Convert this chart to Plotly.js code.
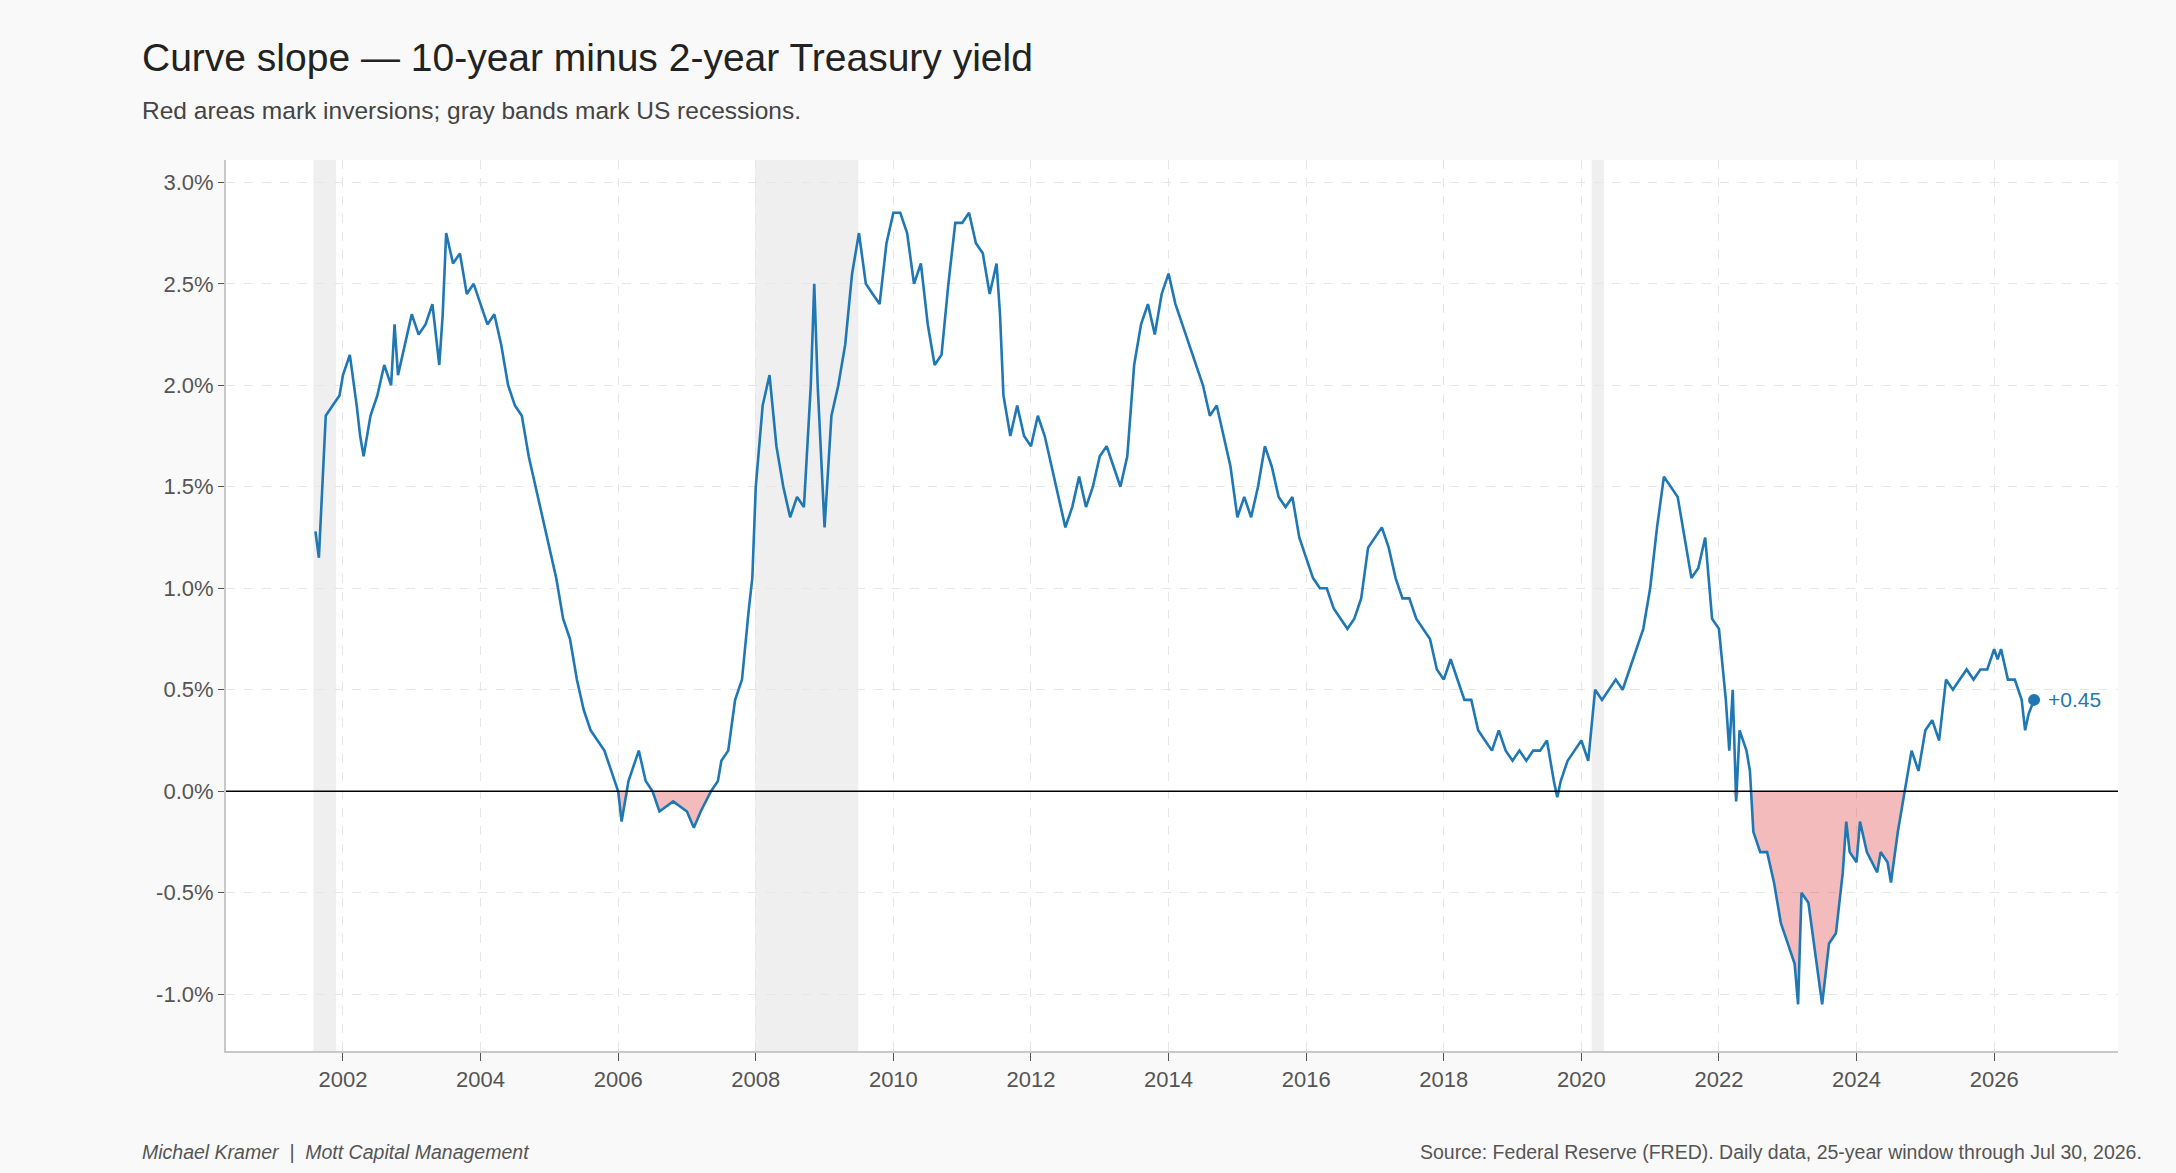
<!DOCTYPE html>
<html>
<head>
<meta charset="utf-8">
<script src="https://cdn.plot.ly/plotly-3.0.1.min.js"></script>
<style>body{margin:0;background:#f9f9f9;} #graph{width:2176px;height:1173px;}</style>
</head>
<body>
<div id="graph"></div>
<script>
// decimal-year dates and 10y-2y spread (%)
var years = [2001.6,2001.65,2001.7,2001.75,2001.85,2001.95,2002.0,2002.1,2002.2,2002.25,2002.3,2002.4,2002.5,2002.6,2002.7,2002.75,2002.8,2002.9,
2003.0,2003.1,2003.2,2003.3,2003.4,2003.45,2003.5,2003.6,2003.7,2003.8,2003.9,2004.0,2004.1,2004.2,2004.3,2004.4,2004.5,2004.6,2004.7,2004.8,2004.9,
2005.0,2005.1,2005.2,2005.3,2005.4,2005.5,2005.6,2005.7,2005.8,2005.9,2006.0,2006.05,2006.15,2006.3,2006.4,2006.5,2006.6,2006.8,
2007.0,2007.1,2007.2,2007.35,2007.45,2007.5,2007.6,2007.7,2007.8,2007.9,2007.95,2008.0,2008.1,2008.2,2008.3,2008.4,2008.5,2008.6,2008.7,2008.8,2008.85,2008.9,
2009.0,2009.1,2009.2,2009.3,2009.4,2009.5,2009.6,2009.7,2009.8,2009.9,2010.0,2010.1,2010.2,2010.3,2010.4,2010.5,2010.6,2010.7,2010.8,2010.9,
2011.0,2011.1,2011.2,2011.3,2011.4,2011.5,2011.55,2011.6,2011.7,2011.8,2011.9,2012.0,2012.1,2012.2,2012.3,2012.4,2012.5,2012.6,2012.7,2012.8,2012.9,
2013.0,2013.1,2013.2,2013.3,2013.4,2013.5,2013.6,2013.7,2013.8,2013.9,2014.0,2014.1,2014.2,2014.3,2014.4,2014.5,2014.6,2014.7,2014.8,2014.9,
2015.0,2015.1,2015.2,2015.3,2015.4,2015.5,2015.6,2015.7,2015.8,2015.9,2016.0,2016.1,2016.2,2016.3,2016.4,2016.5,2016.6,2016.7,2016.8,2016.9,
2017.0,2017.1,2017.2,2017.3,2017.4,2017.5,2017.6,2017.7,2017.8,2017.9,2018.0,2018.1,2018.2,2018.3,2018.4,2018.5,2018.6,2018.7,2018.8,2018.9,
2019.0,2019.1,2019.2,2019.3,2019.4,2019.5,2019.6,2019.65,2019.7,2019.8,2019.9,2020.0,2020.1,2020.2,2020.3,2020.4,2020.5,2020.6,2020.7,2020.8,2020.9,
2021.0,2021.1,2021.2,2021.3,2021.4,2021.5,2021.6,2021.7,2021.8,2021.9,2022.0,2022.1,2022.15,2022.2,2022.25,2022.3,2022.4,2022.45,2022.5,2022.6,2022.7,2022.8,2022.9,
2023.0,2023.1,2023.15,2023.2,2023.3,2023.4,2023.45,2023.5,2023.6,2023.7,2023.8,2023.85,2023.9,2024.0,2024.05,2024.15,2024.3,2024.35,2024.45,2024.5,2024.6,2024.7,2024.8,2024.9,
2025.0,2025.1,2025.2,2025.3,2025.4,2025.5,2025.6,2025.7,2025.8,2025.9,2026.0,2026.05,2026.1,2026.2,2026.3,2026.4,2026.45,2026.5,2026.58];
var spread = [1.28,1.15,1.5,1.85,1.9,1.95,2.05,2.15,1.9,1.75,1.65,1.85,1.95,2.1,2.0,2.3,2.05,2.2,
2.35,2.25,2.3,2.4,2.1,2.35,2.75,2.6,2.65,2.45,2.5,2.4,2.3,2.35,2.2,2.0,1.9,1.85,1.65,1.5,1.35,
1.2,1.05,0.85,0.75,0.55,0.4,0.3,0.25,0.2,0.1,0.0,-0.15,0.05,0.2,0.05,0.0,-0.1,-0.05,
-0.1,-0.18,-0.1,0.0,0.05,0.15,0.2,0.45,0.55,0.9,1.05,1.5,1.9,2.05,1.7,1.5,1.35,1.45,1.4,2.0,2.5,2.0,
1.3,1.85,2.0,2.2,2.55,2.75,2.5,2.45,2.4,2.7,2.85,2.85,2.75,2.5,2.6,2.3,2.1,2.15,2.5,2.8,
2.8,2.85,2.7,2.65,2.45,2.6,2.35,1.95,1.75,1.9,1.75,1.7,1.85,1.75,1.6,1.45,1.3,1.4,1.55,1.4,1.5,
1.65,1.7,1.6,1.5,1.65,2.1,2.3,2.4,2.25,2.45,2.55,2.4,2.3,2.2,2.1,2.0,1.85,1.9,1.75,1.6,
1.35,1.45,1.35,1.5,1.7,1.6,1.45,1.4,1.45,1.25,1.15,1.05,1.0,1.0,0.9,0.85,0.8,0.85,0.95,1.2,
1.25,1.3,1.2,1.05,0.95,0.95,0.85,0.8,0.75,0.6,0.55,0.65,0.55,0.45,0.45,0.3,0.25,0.2,0.3,0.2,
0.15,0.2,0.15,0.2,0.2,0.25,0.05,-0.03,0.05,0.15,0.2,0.25,0.15,0.5,0.45,0.5,0.55,0.5,0.6,0.7,0.8,
1.0,1.3,1.55,1.5,1.45,1.25,1.05,1.1,1.25,0.85,0.8,0.45,0.2,0.5,-0.05,0.3,0.2,0.1,-0.2,-0.3,-0.3,-0.45,-0.65,
-0.75,-0.85,-1.05,-0.5,-0.55,-0.8,-0.9,-1.05,-0.75,-0.7,-0.4,-0.15,-0.3,-0.35,-0.15,-0.3,-0.4,-0.3,-0.35,-0.45,-0.2,0.0,0.2,0.1,
0.3,0.35,0.25,0.55,0.5,0.55,0.6,0.55,0.6,0.6,0.7,0.65,0.7,0.55,0.55,0.45,0.3,0.38,0.45];
var recessions = [[2001.57, 2001.9], [2007.99, 2009.49], [2020.15, 2020.33]];

var inverted = spread.map(function (v) { return Math.min(v, 0); });
var last = spread.length - 1;

var fillTrace = {
  x: years, y: inverted, type: 'scatter', mode: 'lines',
  fill: 'tozeroy', fillcolor: 'rgba(220,60,60,0.35)',
  line: {width: 0}, hoverinfo: 'skip'
};
var lineTrace = {
  x: years, y: spread, type: 'scatter', mode: 'lines',
  line: {color: '#1f77b4', width: 2.6}
};
var endTrace = {
  x: [years[last]], y: [spread[last]], type: 'scatter', mode: 'markers',
  marker: {color: '#1f77b4', size: 12}
};

var shapes = recessions.map(function (r) {
  return {type: 'rect', xref: 'x', yref: 'paper', x0: r[0], x1: r[1], y0: 0, y1: 1,
    fillcolor: '#efefef', line: {width: 0}, layer: 'below'};
});
shapes.push({type: 'line', xref: 'paper', yref: 'y', x0: 0, x1: 1, y0: 0, y1: 0,
  line: {color: '#000', width: 1.5}});

var font = 'Liberation Sans, Arial, sans-serif';
var layout = {
  width: 2176, height: 1173,
  paper_bgcolor: '#f9f9f9', plot_bgcolor: '#ffffff',
  margin: {l: 226, r: 58, t: 160, b: 122},
  showlegend: false,
  font: {family: font, color: '#555', size: 22},
  xaxis: {
    range: [2000.3, 2027.8], tick0: 2002, dtick: 2, tickformat: 'd',
    showgrid: true, gridcolor: '#e6e6e6', griddash: 'dash',
    showline: true, linecolor: '#c8c8c8', linewidth: 2,
    ticks: 'outside', ticklen: 8, tickcolor: '#555', zeroline: false
  },
  yaxis: {
    range: [-1.28, 3.11], tickvals: [-1, -0.5, 0, 0.5, 1, 1.5, 2, 2.5, 3],
    ticktext: ['-1.0%', '-0.5%', '0.0%', '0.5%', '1.0%', '1.5%', '2.0%', '2.5%', '3.0%'],
    showgrid: true, gridcolor: '#e6e6e6', griddash: 'dash',
    showline: true, linecolor: '#c8c8c8', linewidth: 2,
    ticks: 'outside', ticklen: 6, tickcolor: '#555', zeroline: false
  },
  shapes: shapes,
  annotations: [
    {xref: 'paper', yref: 'paper', x: -0.0455, y: 1.115, xanchor: 'left', yanchor: 'middle',
      text: 'Curve slope — 10-year minus 2-year Treasury yield', showarrow: false,
      font: {size: 39, color: '#222', family: font}},
    {xref: 'paper', yref: 'paper', x: -0.0455, y: 1.055, xanchor: 'left', yanchor: 'middle',
      text: 'Red areas mark inversions; gray bands mark US recessions.', showarrow: false,
      font: {size: 24.5, color: '#444', family: font}},
    {xref: 'x', yref: 'y', x: years[last], y: spread[last], xanchor: 'left', xshift: 12,
      text: '+0.45', showarrow: false, font: {size: 21, color: '#1f77b4', family: font}},
    {xref: 'paper', yref: 'paper', x: -0.0455, y: -0.113, xanchor: 'left', yanchor: 'middle',
      text: '<i>Michael Kramer  |  Mott Capital Management</i>', showarrow: false,
      font: {size: 19.5, color: '#555', family: font}},
    {xref: 'paper', yref: 'paper', x: 1.0137, y: -0.113, xanchor: 'right', yanchor: 'middle',
      text: 'Source: Federal Reserve (FRED). Daily data, 25-year window through Jul 30, 2026.', showarrow: false,
      font: {size: 19.5, color: '#555', family: font}}
  ]
};

Plotly.newPlot('graph', [fillTrace, lineTrace, endTrace], layout, {displayModeBar: false});
</script>
</body>
</html>
